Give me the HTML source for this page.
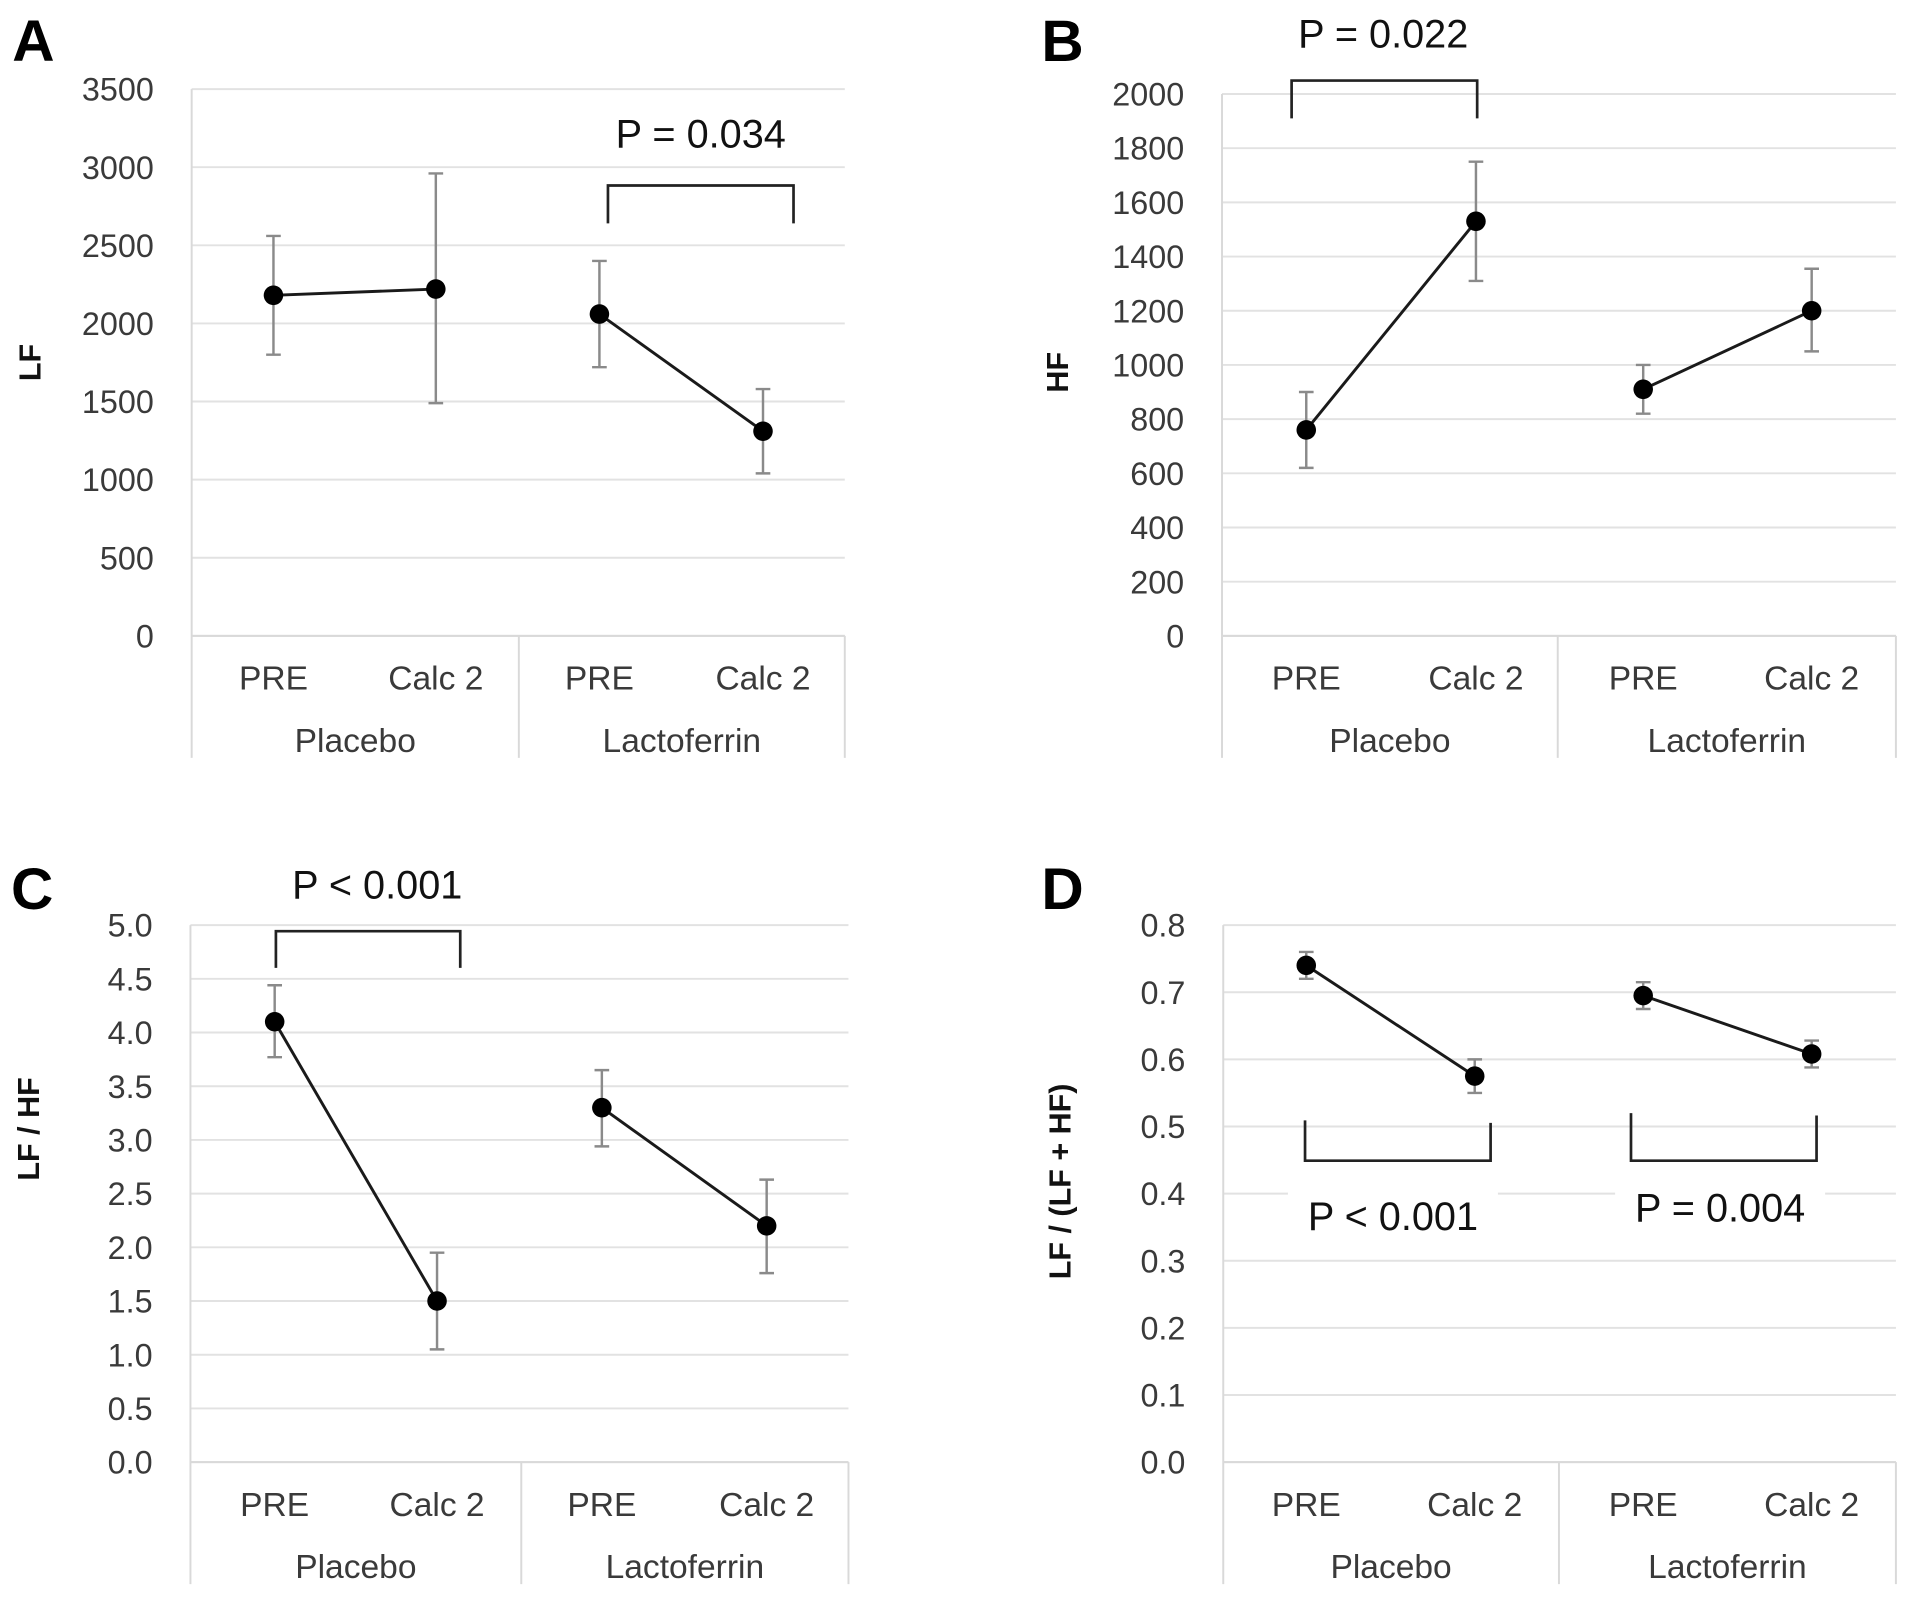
<!DOCTYPE html>
<html><head><meta charset="utf-8"><style>
html,body{margin:0;padding:0;background:#fff;}
svg{display:block;font-family:"Liberation Sans",sans-serif;}
</style></head><body>
<svg id="fig" width="1913" height="1622" viewBox="0 0 1567 1329" preserveAspectRatio="none" xmlns="http://www.w3.org/2000/svg"></svg>
<script>
// Panel A (LF)
const catsA = ["PRE","Calc 2","PRE","Calc 2"];
const groupsA = ["Placebo","Lactoferrin"];
const ticksA = [0,500,1000,1500,2000,2500,3000,3500];
const valsA = [2180,2220,2060,1310];
const loA = [1800,1490,1720,1040];
const hiA = [2560,2960,2400,1580];
// Panel B (HF)
const ticksB = [0,200,400,600,800,1000,1200,1400,1600,1800,2000];
const valsB = [760,1530,910,1200];
const loB = [620,1310,820,1050];
const hiB = [900,1750,1000,1355];
// Panel C (LF/HF)
const ticksC = [0,0.5,1,1.5,2,2.5,3,3.5,4,4.5,5];
const valsC = [4.1,1.5,3.3,2.2];
const loC = [3.77,1.05,2.94,1.76];
const hiC = [4.44,1.95,3.65,2.63];
// Panel D (LF/(LF+HF))
const ticksD = [0,0.1,0.2,0.3,0.4,0.5,0.6,0.7,0.8];
const valsD = [0.74,0.575,0.695,0.608];
const loD = [0.72,0.55,0.675,0.588];
const hiD = [0.76,0.60,0.715,0.628];

const NS="http://www.w3.org/2000/svg";
const svg=document.getElementById('fig');
function mk(tag,attrs,parent){const e=document.createElementNS(NS,tag);for(const k in attrs)e.setAttribute(k,attrs[k]);(parent||svg).appendChild(e);return e;}
function txt(s,attrs,parent){const e=mk('text',attrs,parent);e.textContent=s;return e;}

function panel(cfg){
  const g=mk('g',{});
  
  
  const {L,R,T,B,D,xs,max,ticks,vals,lo,hi,dec}=cfg;
  const y=v=>B-(v/max)*(B-T);
  ticks.forEach(t=>{
    const ln=mk('line',{x1:L,x2:R,y1:y(t),y2:y(t),stroke:'#e2e2e2','stroke-width':1.6},g);
    
    
    const tl=txt(t.toFixed(dec),{x:L-31,y:y(t)+9.5,'text-anchor':'end','font-size':26.5,fill:'#3a3a3a'},g);
    
    
  });
  mk('line',{x1:L,x2:L,y1:T,y2:B+100,stroke:'#d9d9d9','stroke-width':1.6},g);
  mk('line',{x1:D,x2:D,y1:B,y2:B+100,stroke:'#d9d9d9','stroke-width':1.6},g);
  mk('line',{x1:R,x2:R,y1:B,y2:B+100,stroke:'#d9d9d9','stroke-width':1.6},g);
  mk('line',{x1:L,x2:R,y1:B,y2:B,stroke:'#d9d9d9','stroke-width':1.6},g);
  catsA.forEach((c,i)=>{
    const t=txt(c,{x:xs[i],y:B+44,'text-anchor':'middle','font-size':27.5,fill:'#3a3a3a'},g);
    
    
  });
  groupsA.forEach((c,i)=>{
    const cx=i==0?(L+D)/2:(D+R)/2;
    const t=txt(c,{x:cx,y:B+95,'text-anchor':'middle','font-size':27.5,fill:'#3a3a3a'},g);
    
    
  });
  vals.forEach((v,i)=>{
    const eb=mk('path',{d:`M${xs[i]} ${y(lo[i])}V${y(hi[i])}M${xs[i]-6} ${y(lo[i])}h12M${xs[i]-6} ${y(hi[i])}h12`,stroke:'#8a8a8a','stroke-width':2,fill:'none'},g);
    
    
  });
  [[0,1],[2,3]].forEach(([a,b])=>{
    const ln=mk('line',{x1:xs[a],y1:y(vals[a]),x2:xs[b],y2:y(vals[b]),stroke:'#1a1a1a','stroke-width':2.4},g);
    
    
  });
  vals.forEach((v,i)=>{
    const c=mk('circle',{cx:xs[i],cy:y(v),r:8,fill:'#000'},g);
    
    
  });
  const yt=txt(cfg.ytitle,{transform:`translate(${cfg.ytx},${cfg.yty}) rotate(-90)`,'text-anchor':'middle','font-size':25,'font-weight':'bold',fill:'#111'},g);
  
  
  const lt=txt(cfg.id.toUpperCase(),{x:cfg.lx,y:cfg.ly,'font-size':48,'font-weight':'bold',fill:'#000'},g);
  
  
  (cfg.brackets||[]).forEach(br=>{
    if(br.bg){mk('rect',{x:br.tx-86,y:br.ty-33,width:172,height:46,fill:'#fff'},g);}
    const p=mk('path',{d:`M${br.x1} ${br.e1}V${br.yb}H${br.x2}V${br.e2}`,stroke:'#222','stroke-width':2.2,fill:'none'},g);
    
    
    const t=txt(br.label,{x:br.tx,y:br.ty,'text-anchor':'middle','font-size':32.5,fill:'#111'},g);
    
    
  });
}

panel({id:'a',L:157,R:692,T:73,B:521,D:425,xs:[224,357,491,625],max:3500,ticks:ticksA,vals:valsA,lo:loA,hi:hiA,dec:0,
  ytitle:'LF',ytx:33,yty:297,lx:10,ly:50,
  brackets:[{x1:498,x2:650,yb:152,e1:183,e2:183,label:'P = 0.034',tx:574,ty:121}]});
panel({id:'b',L:1001,R:1553,T:77,B:521,D:1276,xs:[1070,1209,1346,1484],max:2000,ticks:ticksB,vals:valsB,lo:loB,hi:hiB,dec:0,
  ytitle:'HF',ytx:875,yty:305,lx:853,ly:50,
  brackets:[{x1:1058,x2:1210,yb:66,e1:97,e2:97,label:'P = 0.022',tx:1133,ty:39}]});
panel({id:'c',L:156,R:695,T:758,B:1198,D:427,xs:[225,358,493,628],max:5,ticks:ticksC,vals:valsC,lo:loC,hi:hiC,dec:1,
  ytitle:'LF / HF',ytx:32,yty:925,lx:9,ly:745,
  brackets:[{x1:226,x2:377,yb:763,e1:793,e2:793,label:'P < 0.001',tx:309,ty:736}]});
panel({id:'d',L:1002,R:1553,T:758,B:1198,D:1277,xs:[1070,1208,1346,1484],max:0.8,ticks:ticksD,vals:valsD,lo:loD,hi:hiD,dec:1,
  ytitle:'LF / (LF + HF)',ytx:877,yty:968,lx:853,ly:745,
  brackets:[{x1:1069,x2:1221,yb:951,e1:918,e2:920,label:'P < 0.001',tx:1141,ty:1008,bg:true},
            {x1:1336,x2:1488,yb:951,e1:912,e2:914,label:'P = 0.004',tx:1409,ty:1001,bg:true}]});
</script>
</body></html>
